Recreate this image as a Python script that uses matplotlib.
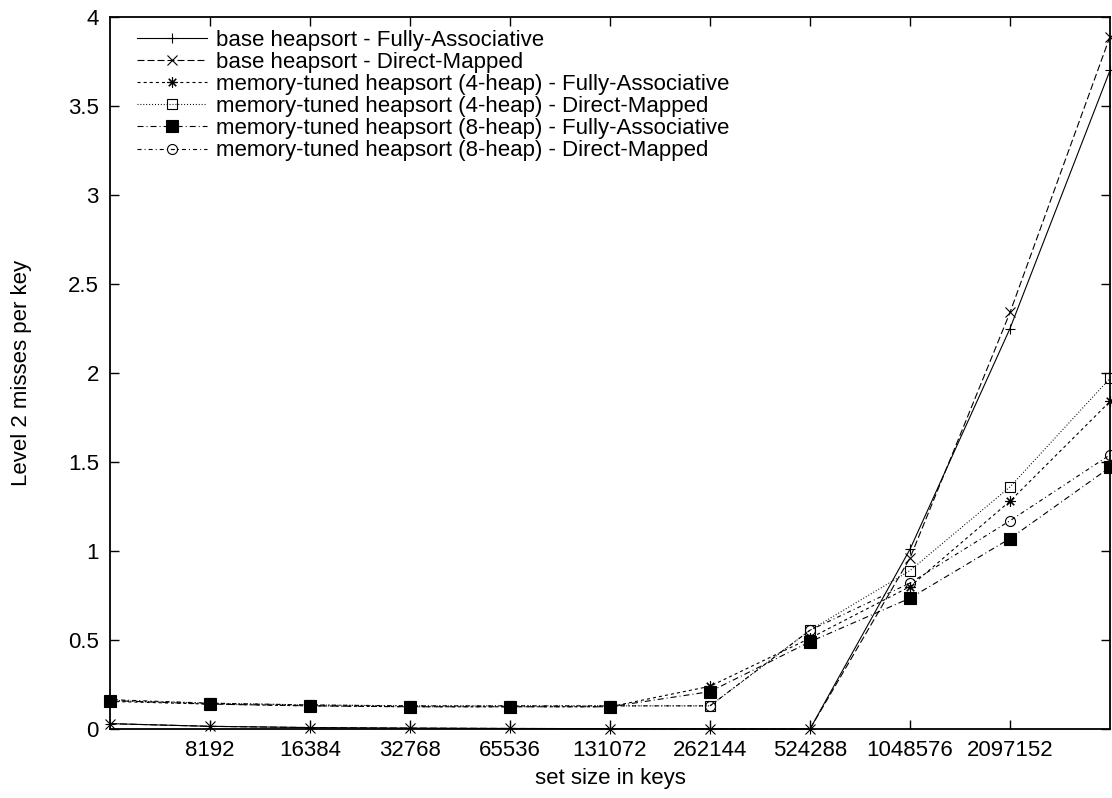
import matplotlib
matplotlib.use("Agg")
import matplotlib.pyplot as plt
from matplotlib.ticker import FixedLocator, FixedFormatter, MultipleLocator, FormatStrFormatter

plt.rcParams['font.family'] = ['Liberation Sans', 'DejaVu Sans']
plt.rcParams['lines.scale_dashes'] = False

# set sizes (keys)
set_sizes = [4096, 8192, 16384, 32768, 65536, 131072, 262144, 524288,
             1048576, 2097152, 4194304]
tick_sizes = [8192, 16384, 32768, 65536, 131072, 262144, 524288, 1048576, 2097152]
tick_labels = [str(v) for v in tick_sizes]

# level 2 misses per key
base_fa = [0.03, 0.015, 0.008, 0.005, 0.003, 0.002, 0.001, 0.0, 1.01, 2.25, 3.70]
base_dm = [0.03, 0.015, 0.008, 0.005, 0.003, 0.002, 0.001, 0.0, 0.96, 2.34, 3.89]
heap4_fa = [0.155, 0.14, 0.13, 0.125, 0.125, 0.125, 0.24, 0.51, 0.80, 1.28, 1.84]
heap4_dm = [0.16, 0.145, 0.135, 0.13, 0.13, 0.13, 0.13, 0.555, 0.89, 1.36, 1.97]
heap8_fa = [0.16, 0.14, 0.13, 0.125, 0.125, 0.125, 0.21, 0.49, 0.735, 1.07, 1.47]
heap8_dm = [0.165, 0.145, 0.135, 0.13, 0.13, 0.13, 0.13, 0.555, 0.82, 1.17, 1.54]

labels = [
    "base heapsort - Fully-Associative",
    "base heapsort - Direct-Mapped",
    "memory-tuned heapsort (4-heap) - Fully-Associative",
    "memory-tuned heapsort (4-heap) - Direct-Mapped",
    "memory-tuned heapsort (8-heap) - Fully-Associative",
    "memory-tuned heapsort (8-heap) - Direct-Mapped",
]

FS = 16

fig = plt.figure(figsize=(11.12, 7.98), dpi=100)
ax = fig.add_axes([110 / 1112, 69 / 798, 1000 / 1112, 712 / 798])

lw = 0.8
common = dict(color='black', linewidth=lw, clip_on=False)

ax.plot(set_sizes, base_fa, linestyle='-', marker='+', markersize=7,
        markeredgewidth=0.8, label=labels[0], **common)
ax.plot(set_sizes, base_dm, linestyle=(0, (5, 2.2)), marker='x', markersize=6.5,
        markeredgewidth=0.8, label=labels[1], **common)
ax.plot(set_sizes, heap4_fa, linestyle=(0, (2.2, 2.2)), marker=(8, 2, 0),
        markersize=7.5, markeredgewidth=0.8, label=labels[2], **common)
ax.plot(set_sizes, heap4_dm, linestyle=(0, (0.7, 1.4)), marker='s', markersize=7.5,
        markerfacecolor='none', markeredgewidth=0.8, label=labels[3], **common)
ax.plot(set_sizes, heap8_fa, linestyle=(0, (4.3, 2.2, 0.7, 2.2)), marker='s',
        markersize=8, markerfacecolor='black', markeredgewidth=0.8,
        label=labels[4], **common)
ax.plot(set_sizes, heap8_dm, linestyle=(0, (2.9, 2.2, 0.7, 2.2)), marker='o',
        markersize=7.2, markerfacecolor='none', markeredgewidth=0.8,
        label=labels[5], **common)

ax.set_xscale('log', base=2)
ax.set_xlim(4096, 4194304)
ax.set_ylim(0, 4)
ax.xaxis.set_major_locator(FixedLocator(tick_sizes))
ax.xaxis.set_major_formatter(FixedFormatter(tick_labels))
ax.xaxis.set_minor_locator(FixedLocator([]))
ax.yaxis.set_major_locator(MultipleLocator(0.5))
ax.yaxis.set_major_formatter(FormatStrFormatter('%g'))

ax.tick_params(axis='both', which='major', direction='in', length=6.5, width=1.0,
               top=True, right=True, labelsize=FS, pad=8, colors='black')
for s in ax.spines.values():
    s.set_linewidth(1.3)

ax.set_xlabel("set size in keys", fontsize=FS, labelpad=5)
ax.set_ylabel("Level 2 misses per key", fontsize=FS, labelpad=26)

leg = ax.legend(loc='upper left', bbox_to_anchor=(0.027, 0.982), frameon=False,
                fontsize=FS, handlelength=3.15, handletextpad=0.4,
                labelspacing=0.05, numpoints=1, borderaxespad=0, borderpad=0)

fig.savefig("out.png", dpi=100)
